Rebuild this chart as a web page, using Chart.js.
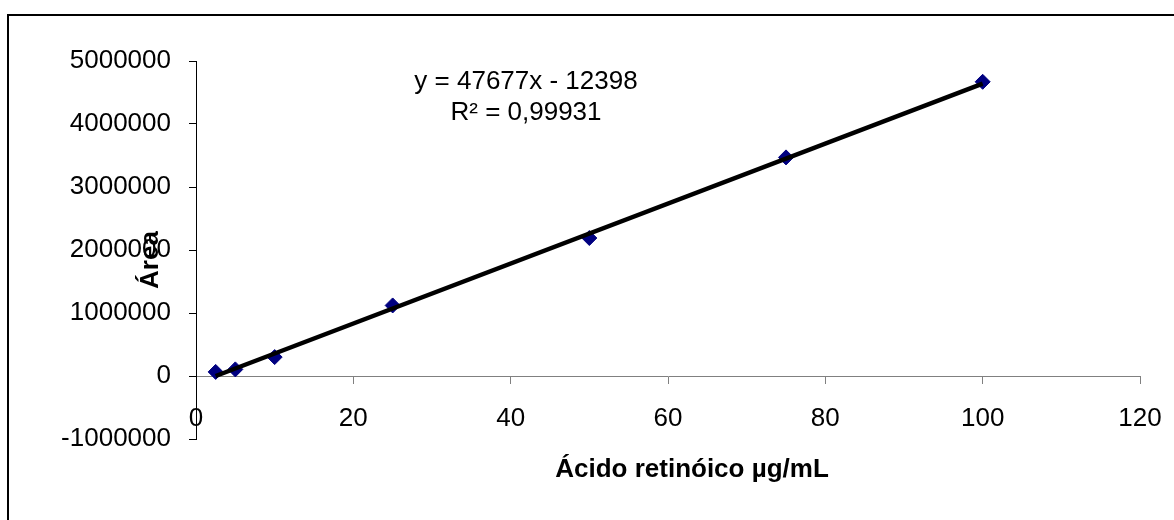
<!DOCTYPE html>
<html lang="pt">
<head>
    <meta charset="UTF-8">
    <title>Curva de calibração - Ácido retinóico</title>
    <script src="https://cdn.jsdelivr.net/npm/chart.js"></script>
    <style>
        body { margin: 0; background: #fff; }
        #wrap { width: 1174px; height: 520px; }
    </style>
</head>
<body>
    <div id="wrap">
        <canvas id="curveChart" width="1174" height="520"></canvas>
    </div>

    <script>
        // concentrações (µg/mL) e áreas
        const concentrations = [2.5, 5, 10, 25, 50, 75, 100];
        const areas = [65000, 105000, 300000, 1120000, 2190000, 3470000, 4670000];

        // linha de tendência (pontos extremos)
        const trendX = [2.5, 100];
        const trendY = [0, 4640000];

        const xTicks = [0, 20, 40, 60, 80, 100, 120];
        const yTicks = [-1000000, 0, 1000000, 2000000, 3000000, 4000000, 5000000];

        const equationText = "y = 47677x - 12398";
        const r2Text = "R² = 0,99931";
        const xTitle = "Ácido retinóico µg/mL";
        const yTitle = "Área";

        const FONT = "'Liberation Sans', Arial, sans-serif";

        const decorations = {
            id: "decorations",
            beforeDraw(chart) {
                const ctx = chart.ctx;
                ctx.save();
                ctx.fillStyle = "#fff";
                ctx.fillRect(0, 0, chart.width, chart.height);
                ctx.strokeStyle = "#000";
                ctx.lineWidth = 2;
                ctx.strokeRect(8, 15, chart.width + 20, chart.height + 20);
                ctx.restore();
            },
            afterDraw(chart) {
                const ctx = chart.ctx;
                ctx.save();
                ctx.fillStyle = "#000";
                ctx.textAlign = "center";
                ctx.textBaseline = "alphabetic";

                ctx.font = "26px " + FONT;
                ctx.fillText(equationText, 526, 89);
                ctx.fillText(r2Text, 526, 120);

                ctx.font = "bold 26px " + FONT;
                ctx.fillText(xTitle, 692, 477);

                ctx.translate(158, 260);
                ctx.rotate(-Math.PI / 2);
                ctx.fillText(yTitle, 0, 0);
                ctx.restore();
            }
        };

        new Chart(document.getElementById("curveChart").getContext("2d"), {
            type: "scatter",
            data: {
                datasets: [
                    {
                        label: "Tendência",
                        type: "line",
                        data: trendX.map((x, i) => ({ x: x, y: trendY[i] })),
                        borderColor: "#000",
                        borderWidth: 4.5,
                        pointRadius: 0,
                        fill: false
                    },
                    {
                        label: "Área",
                        data: concentrations.map((x, i) => ({ x: x, y: areas[i] })),
                        pointStyle: "rectRot",
                        pointRadius: 7.5,
                        pointBackgroundColor: "#000080",
                        pointBorderColor: "#000080",
                        pointBorderWidth: 1
                    }
                ]
            },
            options: {
                responsive: false,
                animation: false,
                layout: { padding: { left: 0, top: 61, right: 34, bottom: 81 } },
                plugins: {
                    legend: { display: false },
                    tooltip: { enabled: false }
                },
                scales: {
                    x: {
                        type: "linear",
                        position: { y: 0 },
                        min: 0,
                        max: 120,
                        afterBuildTicks: scale => { scale.ticks = xTicks.map(v => ({ value: v })); },
                        afterFit: scale => { scale.paddingLeft = 0; scale.paddingRight = 0; },
                        grid: { drawOnChartArea: false, color: "#808080", tickLength: 7 },
                        border: { color: "#808080", width: 1 },
                        ticks: {
                            color: "#000",
                            font: { family: FONT, size: 26 },
                            padding: 20,
                            autoSkip: false,
                            maxRotation: 0,
                            callback: v => String(v)
                        }
                    },
                    y: {
                        type: "linear",
                        position: "left",
                        min: -1000000,
                        max: 5000000,
                        afterBuildTicks: scale => { scale.ticks = yTicks.map(v => ({ value: v })); },
                        afterFit: scale => { scale.width = 196; scale.paddingTop = 0; scale.paddingBottom = 0; },
                        grid: { drawOnChartArea: false, color: "#000", tickLength: 7 },
                        border: { color: "#000", width: 1 },
                        ticks: {
                            color: "#000",
                            font: { family: FONT, size: 26 },
                            padding: 18,
                            callback: v => String(v)
                        }
                    }
                }
            },
            plugins: [decorations]
        });
    </script>
</body>
</html>
